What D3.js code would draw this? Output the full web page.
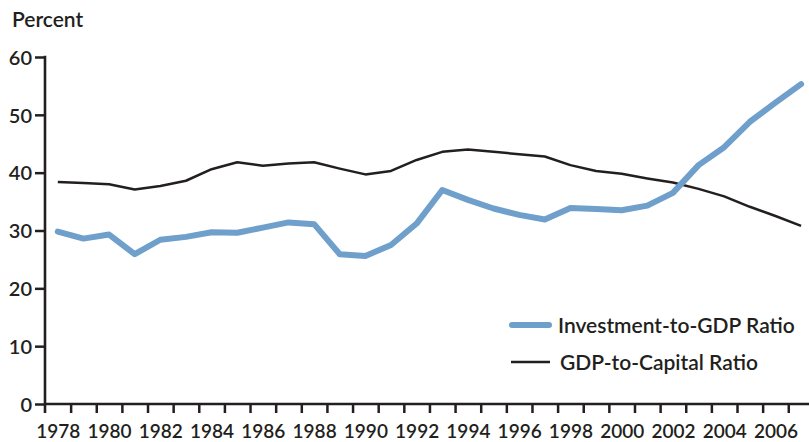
<!DOCTYPE html>
<html>
<head>
<meta charset="utf-8">
<script src="https://cdn.jsdelivr.net/npm/d3@7"></script>
<style>
  body { margin: 0; background: #fff; }
  svg text { font-family: Lato, "Open Sans", sans-serif; font-weight: 600; fill: #231f20; }
</style>
</head>
<body>
<svg width="809" height="442"></svg>
<script>
// jaren en de twee reeksen (procenten)
var years = d3.range(1978, 2008);
var investmentToGdp = [29.8, 28.6, 29.3, 25.9, 28.4, 28.9, 29.7, 29.6, 30.5, 31.4,
                       31.1, 25.9, 25.6, 27.5, 31.2, 37.0, 35.3, 33.8, 32.7, 31.9,
                       33.9, 33.7, 33.5, 34.3, 36.5, 41.3, 44.4, 48.8, 52.1, 55.3];
var gdpToCapital = [38.4, 38.2, 38.0, 37.1, 37.7, 38.6, 40.6, 41.8, 41.2, 41.6,
                    41.8, 40.7, 39.7, 40.3, 42.2, 43.6, 44.0, 43.6, 43.2, 42.8,
                    41.3, 40.3, 39.8, 39.0, 38.3, 37.2, 35.9, 34.1, 32.5, 30.8];
var yTicks = [0, 10, 20, 30, 40, 50, 60];
var xLabels = d3.range(1978, 2007, 2);
var legendNames = ["Investment-to-GDP Ratio", "GDP-to-Capital Ratio"];

var svg = d3.select("svg"),
    left = 45,
    g = svg.append("g");

// jaren staan midden in een vak, de streepjes op de grenzen
var x = d3.scaleLinear().domain([1977.5, 2007.5]).range([left, 813.9]),
    y = d3.scaleLinear().domain([0, 60]).range([404, 57]);

// y-as
g.append("g")
    .attr("transform", "translate(" + left + ",0)")
    .call(d3.axisLeft(y).tickValues(yTicks).tickSize(10).tickSizeOuter(0).tickPadding(3))
    .call(function(a) {
      a.select(".domain").remove();
      a.selectAll("line").attr("stroke", "#231f20").attr("stroke-width", 2.5);
      a.selectAll("text").style("font-size", "20px").attr("dy", "0.36em");
    });

g.append("line")
    .attr("x1", left).attr("x2", left)
    .attr("y1", y(60) - 1.2).attr("y2", 413)
    .attr("stroke", "#231f20").attr("stroke-width", 2.6);

// x-as met streepjes op de jaargrenzen
g.append("g")
    .attr("transform", "translate(0," + y(0) + ")")
    .call(d3.axisBottom(x).tickValues(d3.range(1978.5, 2007, 1)).tickSize(9).tickFormat(""))
    .call(function(a) {
      a.select(".domain").remove();
      a.selectAll("line").attr("stroke", "#231f20").attr("stroke-width", 2.5);
    });

g.append("line")
    .attr("x1", left).attr("x2", 809)
    .attr("y1", y(0)).attr("y2", y(0))
    .attr("stroke", "#231f20").attr("stroke-width", 2.6);

// jaartallen onder de as
g.append("g")
    .attr("transform", "translate(0," + y(0) + ")")
    .call(d3.axisBottom(x).tickValues(xLabels).tickSize(0).tickPadding(0).tickFormat(d3.format("d")))
    .call(function(a) {
      a.select(".domain").remove();
      a.selectAll("text").style("font-size", "19px").attr("y", 33.5).attr("dy", 0);
    });

g.append("text")
    .attr("x", 12)
    .attr("y", 27)
    .style("font-size", "21px")
    .text("Percent");

var line = d3.line()
    .x(function(d, i) { return x(years[i]); })
    .y(function(d) { return y(d); });

g.append("path")
    .attr("d", line(gdpToCapital))
    .attr("fill", "none")
    .attr("stroke", "#231f20")
    .attr("stroke-width", 2.5)
    .attr("stroke-linejoin", "round");

g.append("path")
    .attr("d", line(investmentToGdp))
    .attr("fill", "none")
    .attr("stroke", "#6f9fcb")
    .attr("stroke-width", 6)
    .attr("stroke-linejoin", "round")
    .attr("stroke-linecap", "round");

// legenda
var legend = g.append("g");
legend.append("line")
    .attr("x1", 512).attr("x2", 549).attr("y1", 325).attr("y2", 325)
    .attr("stroke", "#6f9fcb").attr("stroke-width", 6).attr("stroke-linecap", "round");
legend.append("line")
    .attr("x1", 511).attr("x2", 550).attr("y1", 362).attr("y2", 362)
    .attr("stroke", "#231f20").attr("stroke-width", 2.5);
legend.selectAll("text.leg")
    .data(legendNames)
    .enter().append("text")
    .attr("class", "leg")
    .attr("x", function(d, i) { return i ? 560 : 558; })
    .attr("y", function(d, i) { return i ? 370 : 333; })
    .style("font-size", "21px")
    .text(function(d) { return d; });
</script>
</body>
</html>
